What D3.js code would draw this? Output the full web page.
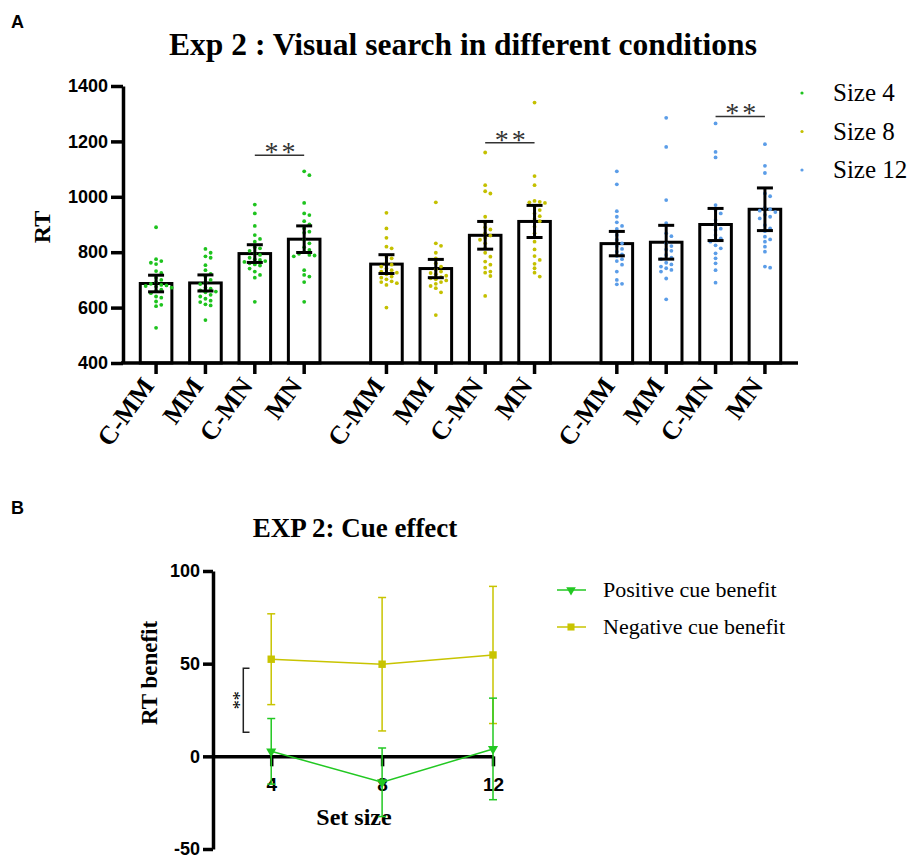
<!DOCTYPE html>
<html>
<head>
<meta charset="utf-8">
<script src="https://cdn.jsdelivr.net/npm/d3@7/dist/d3.min.js"></script>
<style>
  body { margin: 0; background: #fff; }
  svg text { fill: #000; }
</style>
</head>
<body>
<div id="chart"></div>
<script>
// ---- data: panel A ----
const setSizes = ["Size 4", "Size 8", "Size 12"];
const conditions = ["C-MM", "MM", "C-MN", "MN"];
const barMeans = [[687, 689, 795, 847], [757, 741, 861, 911], [831, 836, 900, 955]];
const barErrors = [[30, 29, 32, 48], [34, 33, 50, 58], [44, 61, 58, 77]];
const sigLevels = [1150, 1195, 1290];
const yTicksA = [400, 600, 800, 1000, 1200, 1400];

const size4Dots = [
  [890, 775, 768, 762, 757, 732, 725, 708, 700, 692, 686, 682, 680, 678, 676, 672, 665, 660, 652, 640, 636, 622, 610, 605, 527],
  [812, 798, 785, 780, 753, 735, 722, 712, 700, 690, 685, 672, 668, 662, 658, 655, 646, 640, 632, 625, 620, 612, 608, 555],
  [972, 940, 895, 862, 848, 838, 818, 814, 805, 795, 790, 780, 775, 772, 768, 765, 760, 756, 752, 741, 730, 718, 708, 621],
  [1092, 1078, 978, 940, 934, 912, 900, 886, 874, 870, 845, 832, 818, 808, 800, 794, 790, 788, 785, 735, 718, 712, 692, 621]
];
const size8Dots = [
  [942, 886, 852, 820, 814, 783, 778, 762, 755, 748, 741, 735, 730, 726, 720, 712, 708, 702, 695, 692, 688, 682, 600],
  [980, 832, 823, 798, 778, 760, 748, 738, 730, 725, 720, 715, 710, 706, 702, 698, 692, 686, 678, 670, 655, 573],
  [1160, 1042, 1020, 1012, 928, 906, 890, 882, 868, 860, 852, 845, 832, 815, 798, 784, 766, 755, 744, 730, 726, 714, 642],
  [1340, 1075, 1042, 985, 982, 980, 978, 965, 952, 940, 930, 920, 912, 892, 868, 838, 810, 786, 772, 758, 742, 726, 712]
];
const size12Dots = [
  [1092, 1045, 948, 928, 908, 895, 884, 862, 845, 832, 822, 812, 802, 792, 786, 775, 768, 755, 730, 700, 686, 684],
  [1285, 1180, 988, 905, 868, 858, 832, 822, 810, 805, 790, 780, 775, 762, 756, 748, 742, 736, 730, 705, 630],
  [1265, 1162, 1142, 970, 952, 940, 916, 898, 885, 880, 862, 850, 845, 838, 825, 814, 796, 778, 760, 735, 690],
  [1190, 1112, 1086, 1012, 1002, 960, 955, 950, 945, 935, 928, 922, 898, 886, 876, 856, 846, 838, 820, 802, 748, 744]
];
const allDots = [size4Dots, size8Dots, size12Dots];
const sizeColors = ["#1ec31e", "#c4c000", "#5b9de8"];

// ---- data: panel B ----
const setSizeTicks = [4, 8, 12];
const positiveMean = [2.7, -14, 4];
const positiveErr = [17.7, 18.5, 27.4];
const negativeMean = [52.4, 49.7, 54.7];
const negativeErr = [24.5, 36, 37];
const yTicksB = [-50, 0, 50, 100];
const sigB = [13, 47.5];

const serif = "'Liberation Serif', 'Times New Roman', serif";
const sans = "'Liberation Sans', Arial, sans-serif";
const plain = d => String(d);

const svg = d3.select("#chart").append("svg")
  .attr("width", 912).attr("height", 859);

// panel letters
svg.append("text").attr("x", 11).attr("y", 28).text("A")
  .style("font-family", sans).style("font-weight", "bold").style("font-size", "18px");
svg.append("text").attr("x", 11).attr("y", 514).text("B")
  .style("font-family", sans).style("font-weight", "bold").style("font-size", "18px");

// ================= PANEL A =================
const yA = d3.scaleLinear().domain([400, 1400]).range([363, 86]);
const groupX = d3.scaleBand().domain(setSizes).range([123, 798]).paddingInner(0.22).paddingOuter(0.075);
const condX = d3.scaleBand().domain(conditions).range([0, groupX.bandwidth()]).paddingInner(0.36).paddingOuter(0);
const cx = (g, c) => groupX(setSizes[g]) + condX(conditions[c]) + condX.bandwidth() / 2;

svg.append("text").attr("x", 463).attr("y", 55)
  .attr("text-anchor", "middle")
  .style("font-family", serif).style("font-weight", "bold").style("font-size", "31.5px")
  .text("Exp 2 : Visual search in different conditions");

// bars
const barData = [];
setSizes.forEach((s, g) => conditions.forEach((c, i) => {
  barData.push({ g, i, mean: barMeans[g][i], err: barErrors[g][i], dots: allDots[g][i] });
}));

const gA = svg.append("g");
gA.selectAll(".bar").data(barData).enter().append("rect")
  .attr("class", "bar")
  .attr("x", d => groupX(setSizes[d.g]) + condX(conditions[d.i]))
  .attr("y", d => yA(d.mean))
  .attr("width", condX.bandwidth())
  .attr("height", d => yA(400) - yA(d.mean))
  .style("fill", "#fff").style("stroke", "#000").style("stroke-width", 3);

// simple deterministic swarm so equal values spread sideways
function swarm(values, r) {
  const pts = values.map(v => ({ v, py: yA(v) })).sort((a, b) => a.py - b.py);
  const placed = [];
  const offs = [0];
  for (let k = 1; k < 12; k++) offs.push(k * 5.2, -k * 5.2);
  pts.forEach(p => {
    p.dx = 0;
    for (const dx of offs) {
      if (placed.every(q => Math.hypot(q.dx - dx, q.py - p.py) >= r)) { p.dx = dx; break; }
    }
    placed.push(p);
  });
  return pts;
}

barData.forEach(d => {
  const pts = swarm(d.dots, 4.2);
  gA.selectAll(null).data(pts).enter().append("circle")
    .attr("cx", p => cx(d.g, d.i) + p.dx)
    .attr("cy", p => p.py)
    .attr("r", 1.9)
    .style("fill", sizeColors[d.g]);
});

// error bars
const cap = 8;
gA.selectAll(".errv").data(barData).enter().append("line")
  .attr("x1", d => cx(d.g, d.i)).attr("x2", d => cx(d.g, d.i))
  .attr("y1", d => yA(d.mean - d.err)).attr("y2", d => yA(d.mean + d.err))
  .style("stroke", "#000").style("stroke-width", 3);
[1, -1].forEach(sgn => {
  gA.selectAll(null).data(barData).enter().append("line")
    .attr("x1", d => cx(d.g, d.i) - cap).attr("x2", d => cx(d.g, d.i) + cap)
    .attr("y1", d => yA(d.mean + sgn * d.err)).attr("y2", d => yA(d.mean + sgn * d.err))
    .style("stroke", "#000").style("stroke-width", 3);
});

// significance lines
sigLevels.forEach((lv, g) => {
  gA.append("line")
    .attr("x1", cx(g, 2)).attr("x2", cx(g, 3))
    .attr("y1", yA(lv)).attr("y2", yA(lv))
    .style("stroke", "#333").style("stroke-width", 1.5);
  gA.append("text")
    .attr("x", (cx(g, 2) + cx(g, 3)) / 2 + 2).attr("y", yA(lv) + 6)
    .attr("text-anchor", "middle")
    .style("font-family", serif).style("font-size", "28px").style("fill", "#333")
    .style("letter-spacing", "3px")
    .text("**");
});

// y axis
const axA = svg.append("g").attr("transform", "translate(123,0)")
  .call(d3.axisLeft(yA).tickValues(yTicksA).tickFormat(plain).tickSize(12).tickSizeOuter(0).tickPadding(3));
axA.select(".domain").style("stroke-width", 3.5);
axA.selectAll(".tick line").style("stroke-width", 3.5);
axA.selectAll(".tick text").style("font-family", sans).style("font-weight", "bold").style("font-size", "18px");

svg.append("text").attr("transform", "translate(50,227) rotate(-90)")
  .attr("text-anchor", "middle")
  .style("font-family", serif).style("font-weight", "bold").style("font-size", "24px")
  .text("RT");

// x axis
svg.append("line").attr("x1", 121).attr("x2", 798).attr("y1", yA(400)).attr("y2", yA(400))
  .style("stroke", "#000").style("stroke-width", 3.5);
gA.selectAll(".xtick").data(barData).enter().append("line")
  .attr("x1", d => cx(d.g, d.i)).attr("x2", d => cx(d.g, d.i))
  .attr("y1", yA(400)).attr("y2", yA(400) + 11)
  .style("stroke", "#000").style("stroke-width", 3.5);
gA.selectAll(".xlab").data(barData).enter().append("text")
  .attr("transform", d => `translate(${cx(d.g, d.i) - 1},${yA(400) + 23}) rotate(-54)`)
  .attr("text-anchor", "end")
  .style("font-family", serif).style("font-weight", "bold").style("font-size", "26px")
  .text(d => conditions[d.i]);

// legend A
setSizes.forEach((s, k) => {
  svg.append("circle").attr("cx", 802).attr("cy", 93 + k * 38.5).attr("r", 1.6).style("fill", sizeColors[k]);
  svg.append("text").attr("x", 833).attr("y", 101 + k * 38.5)
    .style("font-family", serif).style("font-size", "25px").text(s);
});

// ================= PANEL B =================
const xB = d3.scaleLinear().domain([1.9, 12]).range([213, 493]);
const yB = d3.scaleLinear().domain([-50, 100]).range([849, 571]);
const posColor = "#22c822";
const negColor = "#c8c400";

svg.append("text").attr("x", 355).attr("y", 537)
  .attr("text-anchor", "middle")
  .style("font-family", serif).style("font-weight", "bold").style("font-size", "27px")
  .text("EXP 2: Cue effect");

const axBy = svg.append("g").attr("transform", "translate(213,0)")
  .call(d3.axisLeft(yB).tickValues(yTicksB).tickFormat(plain).tickSize(10).tickSizeOuter(0).tickPadding(3));
axBy.select(".domain").style("stroke-width", 3.5);
axBy.selectAll(".tick line").style("stroke-width", 3.5);
axBy.selectAll(".tick text").style("font-family", sans).style("font-weight", "bold").style("font-size", "18px");

const axBx = svg.append("g").attr("transform", `translate(0,${yB(0)})`)
  .call(d3.axisBottom(xB).tickValues(setSizeTicks).tickFormat(plain).tickSize(10).tickSizeOuter(0).tickPadding(11));
axBx.select(".domain").style("stroke-width", 3.5);
axBx.selectAll(".tick line").style("stroke-width", 3.5);
axBx.selectAll(".tick text").style("font-family", sans).style("font-weight", "bold").style("font-size", "19px");

svg.append("text").attr("x", 354).attr("y", 825).attr("text-anchor", "middle")
  .style("font-family", serif).style("font-weight", "bold").style("font-size", "24px")
  .text("Set size");
svg.append("text").attr("transform", "translate(157,673) rotate(-90)")
  .attr("text-anchor", "middle")
  .style("font-family", serif).style("font-weight", "bold").style("font-size", "23px")
  .text("RT benefit");

function drawSeries(means, errs, color, marker) {
  const pts = setSizeTicks.map((s, k) => ({ s, m: means[k], e: errs[k] }));
  const g = svg.append("g");
  pts.forEach(p => {
    g.append("line").attr("x1", xB(p.s)).attr("x2", xB(p.s))
      .attr("y1", yB(p.m - p.e)).attr("y2", yB(p.m + p.e))
      .style("stroke", color).style("stroke-width", 1.5);
    [p.m - p.e, p.m + p.e].forEach(v => {
      g.append("line").attr("x1", xB(p.s) - 4).attr("x2", xB(p.s) + 4)
        .attr("y1", yB(v)).attr("y2", yB(v))
        .style("stroke", color).style("stroke-width", 1.5);
    });
  });
  g.append("path").datum(pts)
    .attr("d", d3.line().x(p => xB(p.s)).y(p => yB(p.m)))
    .style("fill", "none").style("stroke", color).style("stroke-width", 1.5);
  g.selectAll(null).data(pts).enter().append("path")
    .attr("transform", p => `translate(${xB(p.s)},${yB(p.m)})` + (marker === "tri" ? " rotate(180)" : ""))
    .attr("d", d3.symbol().type(marker === "tri" ? d3.symbolTriangle : d3.symbolSquare).size(marker === "tri" ? 45 : 55))
    .style("fill", color);
}
drawSeries(negativeMean, negativeErr, negColor, "sq");
drawSeries(positiveMean, positiveErr, posColor, "tri");

// significance bracket
svg.append("path")
  .attr("d", `M249.5,${yB(sigB[1])}H243.3V${yB(sigB[0])}H249.5`)
  .style("fill", "none").style("stroke", "#222").style("stroke-width", 1.5);
svg.append("text").attr("transform", `translate(246,${yB((sigB[0] + sigB[1]) / 2)}) rotate(-90)`)
  .attr("text-anchor", "middle")
  .style("font-family", serif).style("font-size", "18px")
  .text("**");

// legend B
const legB = [["Positive cue benefit", posColor, "tri"], ["Negative cue benefit", negColor, "sq"]];
legB.forEach(([label, color, marker], k) => {
  const yy = 590 + k * 37;
  svg.append("line").attr("x1", 557).attr("x2", 586).attr("y1", yy).attr("y2", yy)
    .style("stroke", color).style("stroke-width", 1.5);
  svg.append("path")
    .attr("transform", `translate(571,${yy})` + (marker === "tri" ? " rotate(180)" : ""))
    .attr("d", d3.symbol().type(marker === "tri" ? d3.symbolTriangle : d3.symbolSquare).size(marker === "tri" ? 40 : 50))
    .style("fill", color);
  svg.append("text").attr("x", 603).attr("y", yy + 7)
    .style("font-family", serif).style("font-size", "22px").text(label);
});
</script>
</body>
</html>
